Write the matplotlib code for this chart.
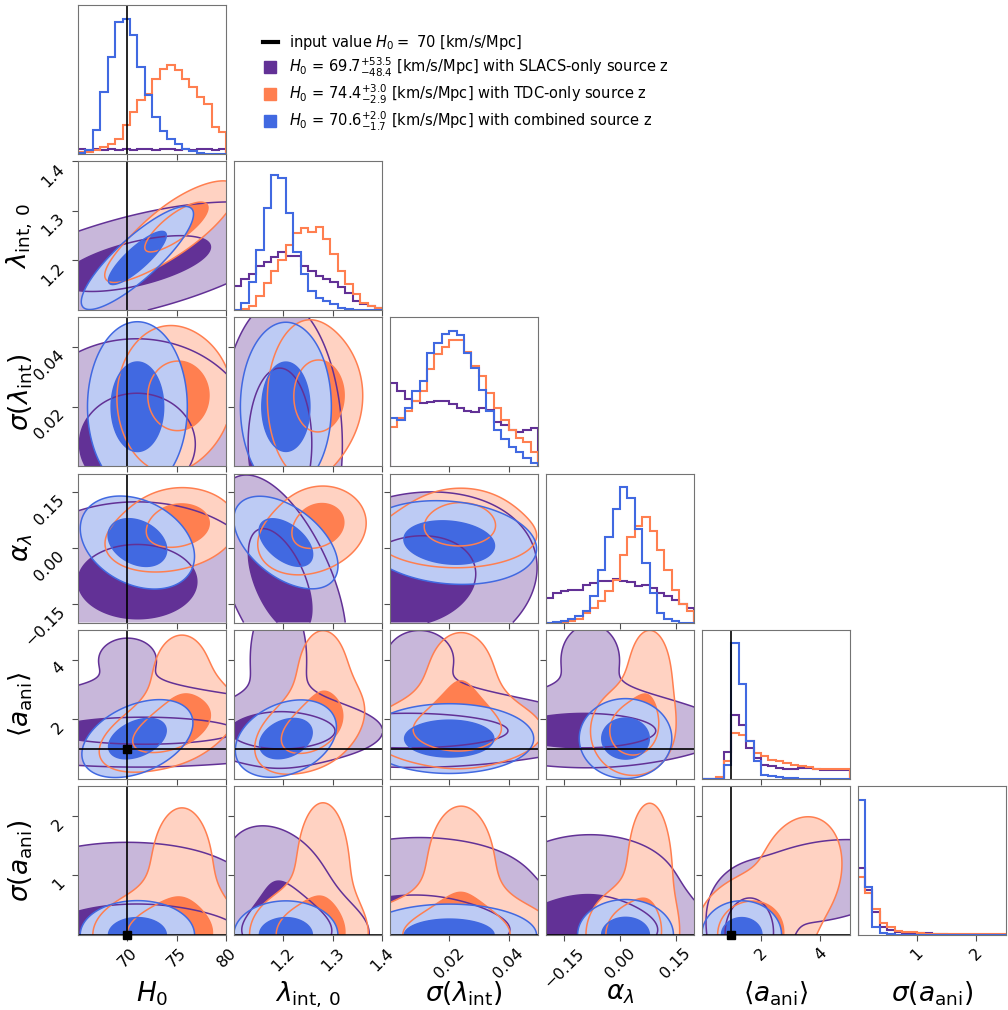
import numpy as np
import matplotlib
matplotlib.use("Agg")
import matplotlib.pyplot as plt
from matplotlib.lines import Line2D

# parameters: H0, lambda_int0, sigma(lambda_int), alpha_lambda, <a_ani>, sigma(a_ani)
labels = [r"$H_0$", r"$\lambda_{\rm int,\,0}$", r"$\sigma(\lambda_{\rm int})$",
          r"$\alpha_{\lambda}$", r"$\langle a_{\rm ani}\rangle$", r"$\sigma(a_{\rm ani})$"]
ranges = [(65, 80), (1.1, 1.4), (0.0, 0.05), (-0.2, 0.2), (0.0, 5.0), (0.0, 2.5)]
ticks = [[70, 75, 80], [1.2, 1.3, 1.4], [0.02, 0.04], [-0.15, 0.0, 0.15], [2, 4], [1, 2]]
tick_labels = [["70", "75", "80"], ["1.2", "1.3", "1.4"], ["0.02", "0.04"],
               ["\u22120.15", "0.00", "0.15"], ["2", "4"], ["1", "2"]]
truths = [70, None, None, None, 1.0, 0.0]

# 1D histograms (20 bins over each range)
hist_purple = [
    [13, 12, 14, 12, 13, 12, 14, 12, 13, 13, 12, 14, 13, 12, 13, 12, 13, 14, 12, 13],
    [72, 92, 107, 132, 144, 157, 172, 162, 162, 132, 117, 102, 92, 82, 67, 52, 27, 17, 12, 7],
    [247, 222, 200, 194, 187, 190, 192, 192, 184, 172, 164, 160, 172, 167, 132, 122, 107, 102, 107, 112],
    [75, 90, 95, 98, 100, 115, 120, 125, 127, 132, 125, 122, 110, 115, 105, 90, 80, 70, 55, 45],
    [0, 0, 0, 79, 192, 162, 92, 62, 42, 37, 32, 30, 30, 32, 32, 30, 27, 27, 27, 27],
    [200, 135, 70, 25, 15, 10, 7, 7, 5, 5, 3, 2, 1, 0, 0, 0, 0, 0, 0, 0],
]
hist_orange = [
    [5, 5, 10, 20, 30, 45, 85, 125, 160, 180, 225, 255, 265, 250, 225, 200, 170, 150, 80, 65],
    [0, 2, 12, 42, 80, 117, 150, 192, 230, 245, 232, 247, 212, 167, 117, 77, 47, 22, 12, 7],
    [117, 142, 162, 192, 222, 287, 332, 352, 372, 372, 337, 297, 267, 217, 172, 137, 107, 84, 72, 42],
    [0, 0, 2, 5, 10, 30, 45, 65, 95, 130, 205, 260, 295, 322, 280, 220, 160, 100, 55, 35],
    [0, 0, 4, 52, 137, 132, 112, 77, 67, 57, 52, 47, 42, 37, 34, 30, 30, 30, 30, 30],
    [175, 125, 77, 35, 23, 13, 10, 8, 5, 3, 3, 3, 3, 3, 3, 3, 3, 3, 3, 3],
]
hist_blue = [
    [3, 12, 70, 185, 290, 395, 405, 355, 260, 175, 110, 68, 45, 28, 15, 8, 3, 0, 0, 0],
    [0, 22, 82, 177, 302, 402, 392, 287, 172, 107, 57, 37, 27, 17, 7, 2, 0, 0, 0, 0],
    [142, 137, 172, 222, 252, 334, 364, 390, 400, 387, 334, 292, 227, 162, 107, 82, 57, 42, 24, 10],
    [0, 2, 5, 10, 20, 35, 80, 160, 260, 345, 412, 380, 285, 180, 90, 30, 10, 5, 0, 0],
    [0, 0, 0, 40, 405, 284, 112, 52, 12, 7, 4, 2, 2, 0, 0, 0, 0, 0, 0, 0],
    [405, 145, 25, 5, 2, 0, 0, 0, 0, 0, 0, 0, 0, 0, 0, 0, 0, 0, 0, 0],
]

# 2D posteriors as small gaussian mixtures (weight, mean, std, pair correlations)
purple_w = [0.5, 0.5]
purple_mu = [[72, 1.20, 0.005, -0.10, 1.6, 0.0], [70, 1.19, 0.010, -0.08, 4.0, 0.9]]
purple_sd = [[12, 0.11, 0.035, 0.20, 0.55, 0.4], [12, 0.08, 0.035, 0.20, 3.0, 0.7]]
purple_rho = [{(0, 1): 0.6, (1, 3): -0.6, (2, 3): 0.3},
              {(0, 1): 0.6, (1, 3): -0.5, (4, 5): 0.3, (1, 5): -0.3}]

orange_w = [0.65, 0.35]
orange_mu = [[74.0, 1.25, 0.022, 0.03, 1.6, 0.0], [75.5, 1.28, 0.024, 0.08, 3.3, 1.0]]
orange_sd = [[4.0, 0.06, 0.020, 0.06, 0.8, 0.4], [2.5, 0.04, 0.009, 0.045, 1.3, 0.9]]
orange_rho = [{(0, 1): 0.85, (0, 3): 0.2, (1, 3): 0.2, (0, 4): 0.5, (1, 4): 0.4},
              {(0, 1): 0.7, (4, 5): 0.2}]

blue_w = [1.0]
blue_mu = [[71.0, 1.205, 0.020, 0.015, 1.35, 0.0]]
blue_sd = [[3.0, 0.055, 0.017, 0.065, 0.7, 0.3]]
blue_rho = [{(0, 1): 0.85, (0, 3): -0.3, (0, 4): 0.4, (1, 3): -0.5, (1, 4): 0.3, (2, 3): -0.15}]

legend_labels = [
    r"input value $H_0 = $ 70 [km/s/Mpc]",
    r"$H_0$ = 69.7$^{+53.5}_{-48.4}$ [km/s/Mpc] with SLACS-only source z",
    r"$H_0$ = 74.4$^{+3.0}_{-2.9}$ [km/s/Mpc] with TDC-only source z",
    r"$H_0$ = 70.6$^{+2.0}_{-1.7}$ [km/s/Mpc] with combined source z",
]

colors = ["#623196", "#ff7f50", "#4169e1"]
datasets = [
    (purple_w, purple_mu, purple_sd, purple_rho, hist_purple),
    (orange_w, orange_mu, orange_sd, orange_rho, hist_orange),
    (blue_w, blue_mu, blue_sd, blue_rho, hist_blue),
]


def lighten(c, f=0.35):
    rgb = np.array(matplotlib.colors.to_rgb(c))
    return tuple(rgb * f + (1 - f))


def density(X, Y, w, mu, sd, rho, i, j):
    Z = np.zeros_like(X)
    for wk, m, s, r in zip(w, mu, sd, rho):
        c = r.get((j, i), 0.0)
        dx = (X - m[j]) / s[j]
        dy = (Y - m[i]) / s[i]
        q = (dx ** 2 - 2 * c * dx * dy + dy ** 2) / (1 - c ** 2)
        Z += wk * np.exp(-0.5 * q) / (s[j] * s[i] * np.sqrt(1 - c ** 2))
    return Z


def levels_for(Z, fracs=(0.393, 0.865)):
    zs = np.sort(Z.ravel())[::-1]
    cs = np.cumsum(zs)
    cs /= cs[-1]
    return [zs[min(np.searchsorted(cs, f), len(zs) - 1)] for f in fracs]


n = 6
fig = plt.figure(figsize=(10.08, 10.10), dpi=100)
axes = fig.subplots(n, n, gridspec_kw=dict(left=78 / 1008, right=1006 / 1008,
                                           bottom=1 - 935 / 1010, top=1 - 5 / 1010,
                                           wspace=0.05, hspace=0.05))
spine_col = "0.45"

for i in range(n):
    for j in range(n):
        ax = axes[i, j]
        if j > i:
            ax.set_axis_off()
            continue
        for sp in ax.spines.values():
            sp.set_color(spine_col)
        ax.tick_params(direction="out", length=4, color="0.3", labelsize=11.5)
        ax.set_xlim(ranges[j])
        ax.set_xticks(ticks[j])

        if i == j:
            edges = np.linspace(ranges[i][0], ranges[i][1], 21)
            top = 0
            for (w, mu, sd, rho, hists), c in zip(datasets, colors):
                ax.stairs(hists[i], edges, color=c, lw=1.5)
                top = max(top, max(hists[i]))
            ax.set_ylim(0, 1.1 * top)
            ax.set_yticks([])
            if truths[i] is not None:
                ax.axvline(truths[i], color="k", lw=1.2)
        else:
            xs = np.linspace(ranges[j][0], ranges[j][1], 160)
            ys = np.linspace(ranges[i][0], ranges[i][1], 160)
            X, Y = np.meshgrid(xs, ys)
            zlist = []
            for (w, mu, sd, rho, hists), c in zip(datasets, colors):
                Z = density(X, Y, w, mu, sd, rho, i, j)
                lv = levels_for(Z)
                zlist.append((Z, lv, c))
                ax.contourf(X, Y, Z, levels=[lv[1], lv[0], Z.max() * 1.001],
                            colors=[lighten(c), c], antialiased=True)
            for Z, lv, c in zlist:
                ax.contour(X, Y, Z, levels=[lv[1], lv[0]], colors=[c], linewidths=1.1)
            ax.set_ylim(ranges[i])
            ax.set_yticks(ticks[i])
            if truths[j] is not None:
                ax.axvline(truths[j], color="k", lw=1.2)
            if truths[i] is not None:
                ax.axhline(truths[i], color="k", lw=1.2)
            if truths[i] is not None and truths[j] is not None:
                ax.plot(truths[j], truths[i], "s", color="k", ms=6, clip_on=False, zorder=5)

        if i == n - 1:
            ax.set_xticklabels(tick_labels[j], rotation=45)
            ax.set_xlabel(labels[j], fontsize=19)
            ax.xaxis.set_label_coords(0.5, -0.30)
        else:
            ax.set_xticklabels([])
        if j == 0 and i > 0:
            ax.set_yticklabels(tick_labels[i], rotation=45, va="top")
            ax.set_ylabel(labels[i], fontsize=19)
            ax.yaxis.set_label_coords(-0.29, 0.5)
        elif i != j:
            ax.set_yticklabels([])

handles = [Line2D([0], [0], color="k", lw=3)]
for c in colors:
    handles.append(Line2D([0], [0], marker="s", ls="none", color=c, markersize=8))
fig.legend(handles, legend_labels, loc="upper left",
           bbox_to_anchor=(250 / 1008, 1 - 20 / 1010), frameon=False,
           fontsize=10.5, handlelength=1.0, handletextpad=0.8, labelspacing=0.25)

fig.savefig("out.png", dpi=100)
